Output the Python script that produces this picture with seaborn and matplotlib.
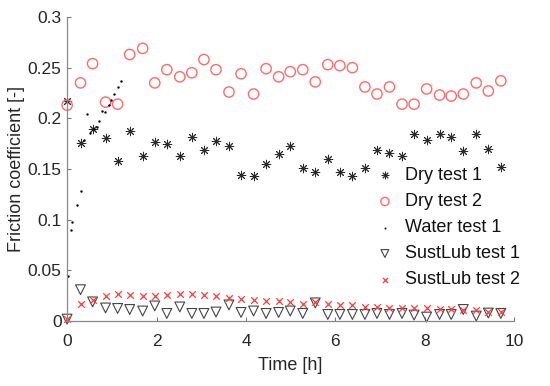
import matplotlib
matplotlib.use("Agg")
import matplotlib.pyplot as pyplot
import seaborn

# time axis shared by the dry and SustLub tests [h]
time_h = [0.0, 0.30, 0.57, 0.86, 1.13, 1.40, 1.69, 1.96, 2.23, 2.52, 2.79, 3.06,
          3.33, 3.62, 3.89, 4.17, 4.45, 4.73, 4.99, 5.27, 5.55, 5.83, 6.10, 6.38,
          6.66, 6.93, 7.21, 7.49, 7.76, 8.04, 8.33, 8.59, 8.86, 9.15, 9.42, 9.70]

dry1 = [0.217, 0.176, 0.190, 0.181, 0.158, 0.188, 0.163, 0.177, 0.175, 0.163, 0.182, 0.169,
        0.178, 0.173, 0.144, 0.143, 0.155, 0.165, 0.173, 0.151, 0.147, 0.160, 0.147, 0.143,
        0.151, 0.169, 0.166, 0.163, 0.185, 0.179, 0.185, 0.182, 0.168, 0.185, 0.170, 0.152]

dry2 = [0.213, 0.235, 0.254, 0.216, 0.214, 0.263, 0.269, 0.235, 0.248, 0.241, 0.245, 0.258,
        0.248, 0.226, 0.244, 0.224, 0.249, 0.241, 0.246, 0.248, 0.236, 0.253, 0.252, 0.250,
        0.231, 0.224, 0.231, 0.214, 0.214, 0.229, 0.223, 0.222, 0.224, 0.235, 0.227, 0.237]

sust1 = [0.002, 0.031, 0.019, 0.013, 0.0125, 0.0115, 0.010, 0.015, 0.0076, 0.014, 0.0076, 0.0076,
         0.009, 0.016, 0.0086, 0.010, 0.0076, 0.0086, 0.010, 0.0076, 0.018, 0.0066, 0.0066, 0.0066,
         0.0066, 0.0076, 0.0066, 0.0076, 0.006, 0.004, 0.0066, 0.0066, 0.0115, 0.005, 0.008, 0.0076]

sust2 = [0.002, 0.017, 0.021, 0.025, 0.027, 0.026, 0.025, 0.025, 0.026, 0.027, 0.027, 0.026,
         0.025, 0.023, 0.022, 0.021, 0.020, 0.020, 0.019, 0.017, 0.019, 0.0165, 0.016, 0.016,
         0.014, 0.014, 0.013, 0.013, 0.013, 0.013, 0.012, 0.012, 0.011, 0.011, 0.009, 0.0086]

water_t = [0.02, 0.08, 0.11, 0.23, 0.31, 0.38, 0.45, 0.51, 0.60, 0.66, 0.71, 0.78,
           0.85, 0.93, 0.99, 1.06, 1.14, 1.20]
water1 = [0.045, 0.090, 0.098, 0.115, 0.128, 0.179, 0.204, 0.186, 0.190, 0.191, 0.197, 0.207,
          0.206, 0.213, 0.218, 0.224, 0.231, 0.237]

xticks = [0, 2, 4, 6, 8, 10]
yticks = [0, 0.05, 0.1, 0.15, 0.2, 0.25, 0.3]
ytick_labels = ["0", "0.05", "0.1", "0.15", "0.2", "0.25", "0.3"]

seaborn.set_style("ticks")
pyplot.rcParams["font.family"] = ["Liberation Sans", "DejaVu Sans"]
pyplot.rcParams["xtick.direction"] = "in"
pyplot.rcParams["ytick.direction"] = "in"

fig = pyplot.figure(figsize=(5.5, 3.86), dpi=100)
ax = fig.add_subplot()

red_light = "#ff6b6b"
red = "#ff3b3b"

seaborn.scatterplot(x=time_h, y=dry1, marker=(8, 2, 0), s=38, color="#2a2a2a",
                    linewidth=0.7, label="Dry test 1", ax=ax, clip_on=False)
seaborn.scatterplot(x=time_h, y=dry2, marker="o", s=55, facecolor="none",
                    edgecolor=red_light, linewidth=1.0, label="Dry test 2", ax=ax, clip_on=False)
seaborn.scatterplot(x=water_t, y=water1, marker=".", s=12, color="black",
                    linewidth=0, label="Water test 1", ax=ax, clip_on=False)
seaborn.scatterplot(x=time_h, y=sust1, marker="v", s=50, facecolor="none",
                    edgecolor="#444444", linewidth=0.8, label="SustLub test 1", ax=ax, clip_on=False)
seaborn.scatterplot(x=time_h, y=sust2, marker="x", s=22, color=red,
                    linewidth=0.9, label="SustLub test 2", ax=ax, clip_on=False)

ax.set_xlim(0, 10)
ax.set_ylim(0, 0.3)
ax.set_xticks(xticks)
ax.set_xticklabels([str(t) for t in xticks])
ax.set_yticks(yticks)
ax.set_yticklabels(ytick_labels)
ax.tick_params(labelsize=12.5, length=3, width=0.8, color="#777777", labelcolor="#262626")
ax.tick_params(axis="x", pad=9)
ax.tick_params(axis="y", pad=4)
ax.set_xlabel("Time [h]", fontsize=13, color="#262626", labelpad=6)
ax.set_ylabel("Friction coefficient [-]", fontsize=13, color="#262626", labelpad=2)

for side in ["top", "right"]:
    ax.spines[side].set_visible(False)
for side in ["left", "bottom"]:
    ax.spines[side].set_color("#888888")
    ax.spines[side].set_linewidth(0.9)

leg = ax.legend(loc="center left", bbox_to_anchor=(0.667, 0.41), bbox_transform=fig.transFigure,
                frameon=False, fontsize=13, labelspacing=0.5, handletextpad=0.5,
                handlelength=1.2, borderaxespad=0, markerscale=0.8)
for txt in leg.get_texts():
    txt.set_color("#111111")

fig.subplots_adjust(left=0.122, right=0.935, bottom=0.168, top=0.956)
fig.savefig("out.png", dpi=100)
